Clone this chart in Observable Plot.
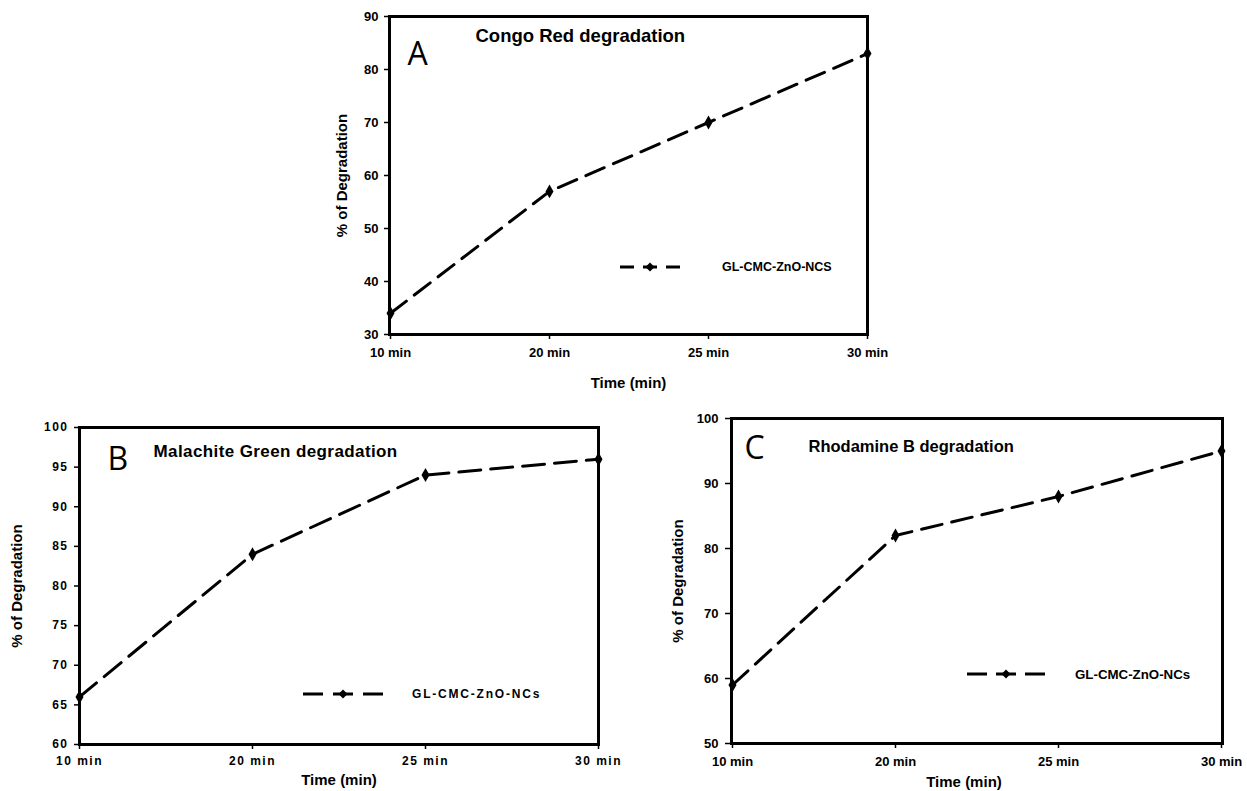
<!DOCTYPE html>
<html>
<head>
<meta charset="utf-8">
<script src="https://cdn.jsdelivr.net/npm/d3@7"></script>
<script src="https://cdn.jsdelivr.net/npm/@observablehq/plot@0.6"></script>
<style>
  html, body { margin: 0; padding: 0; background: #fff; }
  body { width: 1247px; height: 791px; position: relative; overflow: hidden; font-family: "Liberation Sans", Arial, sans-serif; }
  .panel { position: absolute; }
  .legend { position: absolute; display: flex; align-items: center; font-weight: bold; color: #000; white-space: nowrap; }
  .spaced [aria-label="x-axis tick label"] text, .spaced [aria-label="y-axis tick label"] text { letter-spacing: 1.5px; }
</style>
</head>
<body>
<script>
// ---- data ----
const times = ["10 min", "20 min", "25 min", "30 min"];
const congoRed = [34, 57, 70, 83];
const malachiteGreen = [66, 84, 94, 96];
const rhodamineB = [59, 82, 88, 95];
const yTicksA = [30, 40, 50, 60, 70, 80, 90];
const yTicksB = [60, 65, 70, 75, 80, 85, 90, 95, 100];
const yTicksC = [50, 60, 70, 80, 90, 100];
const seriesName = "GL-CMC-ZnO-NCS";
const seriesNameBC = "GL-CMC-ZnO-NCs";
const yLabel = "% of Degradation";
const xLabel = "Time (min)";

function panel(cfg) {
  const data = times.map((t, i) => ({t, v: cfg.values[i]}));
  const svg = Plot.plot({
    width: cfg.width, height: cfg.height,
    marginLeft: cfg.ml, marginRight: cfg.mr, marginTop: cfg.mt, marginBottom: cfg.mb,
    style: {fontFamily: "'Liberation Sans', Arial, sans-serif", fontSize: cfg.tickSize + "px", fontWeight: "bold", color: "#000", background: "transparent", overflow: "visible"},
    x: {type: "point", domain: times, padding: 0},
    y: {domain: cfg.ydomain},
    marks: [
      Plot.axisY({ticks: cfg.yticks, tickSize: cfg.yTick, tickPadding: cfg.yPad, label: null, strokeWidth: 1.5, fontSize: cfg.tickSize, fontWeight: "bold"}),
      Plot.axisX({tickSize: 5, tickPadding: cfg.xPad, label: null, strokeWidth: 1.5, fontSize: cfg.tickSize, fontWeight: "bold"}),
      Plot.line(data, {x: "t", y: "v", stroke: "#000", strokeWidth: 3, strokeDasharray: cfg.dash}),
      Plot.dot(data, {x: "t", y: "v", symbol: "diamond", r: 4.2, fill: "#000"}),
      Plot.frame({stroke: "#000", strokeWidth: 3}),
      Plot.text([cfg.letter], {text: d => d, frameAnchor: "top-left", dx: cfg.letterDx, dy: cfg.letterDy, textAnchor: "start", lineAnchor: "middle", fontSize: 32, fontWeight: "normal", fontFamily: "'Open Sans', sans-serif"}),
      Plot.text([cfg.title], {text: d => d, frameAnchor: "top-left", dx: cfg.titleDx, dy: cfg.titleDy, textAnchor: "start", lineAnchor: "middle", fontSize: cfg.titleSize, fontWeight: "bold", letterSpacing: cfg.titleSpacing}),
      Plot.text([yLabel], {text: d => d, frameAnchor: "left", dx: cfg.ylabDx, rotate: -90, textAnchor: "middle", lineAnchor: "middle", fontSize: 15, fontWeight: "bold"}),
      Plot.text([xLabel], {text: d => d, frameAnchor: "bottom", dx: cfg.xlabDx, dy: cfg.xlabDy, textAnchor: "middle", lineAnchor: "middle", fontSize: 15, fontWeight: "bold"})
    ]
  });
  const wrap = document.createElement("div");
  wrap.className = "panel" + (cfg.spaced ? " spaced" : "");
  wrap.style.left = cfg.left + "px";
  wrap.style.top = cfg.top + "px";
  wrap.appendChild(svg);
  document.body.appendChild(wrap);
  if (cfg.titleSpacing) {
    svg.querySelectorAll("text").forEach(t => { if (t.textContent === cfg.title) t.style.letterSpacing = cfg.titleSpacing + "px"; });
  }

  // legend
  const lg = document.createElement("div");
  lg.className = "legend";
  lg.style.left = cfg.legX + "px";
  lg.style.top = (cfg.legY - 10) + "px";
  lg.style.height = "20px";
  const w = cfg.legW;
  lg.innerHTML = `<svg width="${w}" height="20" style="display:block">
      <line x1="0" y1="10" x2="${w}" y2="10" stroke="#000" stroke-width="3" stroke-dasharray="${cfg.legDash}"/>
      <path d="M${w/2},5.5 L${w/2+4.5},10 L${w/2},14.5 L${w/2-4.5},10 Z" fill="#000"/>
    </svg>
    <span style="margin-left:${cfg.legGap}px;font-size:${cfg.legSize}px;letter-spacing:${cfg.legSpacing}px">${cfg.legText}</span>`;
  document.body.appendChild(lg);
}

// Panel A
panel({
  values: congoRed, ydomain: [30, 90], yticks: yTicksA, tickSize: 13, yTick: 5, yPad: 6, xPad: 8,
  left: 329, top: 6, width: 573, height: 388, ml: 60, mr: 35, mt: 10, mb: 60,
  dash: "20,10",
  letter: "A", letterDx: 18, letterDy: 38,
  title: "Congo Red degradation", titleDx: 86, titleDy: 20, titleSize: 18.5,
  ylabDx: -47, xlabDx: 0, xlabDy: 49,
  legX: 620, legY: 267, legW: 60, legDash: "14,9", legGap: 42, legSize: 12.5, legSpacing: 0, legText: seriesName
});

// Panel B
panel({
  values: malachiteGreen, ydomain: [60, 100], yticks: yTicksB, spaced: true, tickSize: 12, yTick: 5, yPad: 6, xPad: 7,
  left: 0, top: 417, width: 643, height: 374, ml: 79, mr: 45, mt: 10, mb: 47,
  dash: "22,10",
  letter: "B", letterDx: 28, letterDy: 32,
  title: "Malachite Green degradation", titleDx: 74, titleDy: 24, titleSize: 17, titleSpacing: 0.4,
  ylabDx: -62, xlabDx: 0, xlabDy: 36,
  legX: 303, legY: 694, legW: 80, legDash: "20,10", legGap: 29, legSize: 12, legSpacing: 1.8, legText: seriesNameBC
});

// Panel C
panel({
  values: rhodamineB, ydomain: [50, 100], yticks: yTicksC, tickSize: 13, yTick: 6, yPad: 7, xPad: 8,
  left: 671, top: 408, width: 576, height: 383, ml: 60, mr: 25, mt: 10, mb: 48,
  dash: "21,10",
  letter: "C", letterDx: 13, letterDy: 30,
  title: "Rhodamine B degradation", titleDx: 77, titleDy: 28, titleSize: 16.5,
  ylabDx: -53, xlabDx: -13, xlabDy: 39,
  legX: 967, legY: 674, legW: 78, legDash: "20,9", legGap: 30, legSize: 13.3, legSpacing: 0, legText: seriesNameBC
});
</script>
</body>
</html>
